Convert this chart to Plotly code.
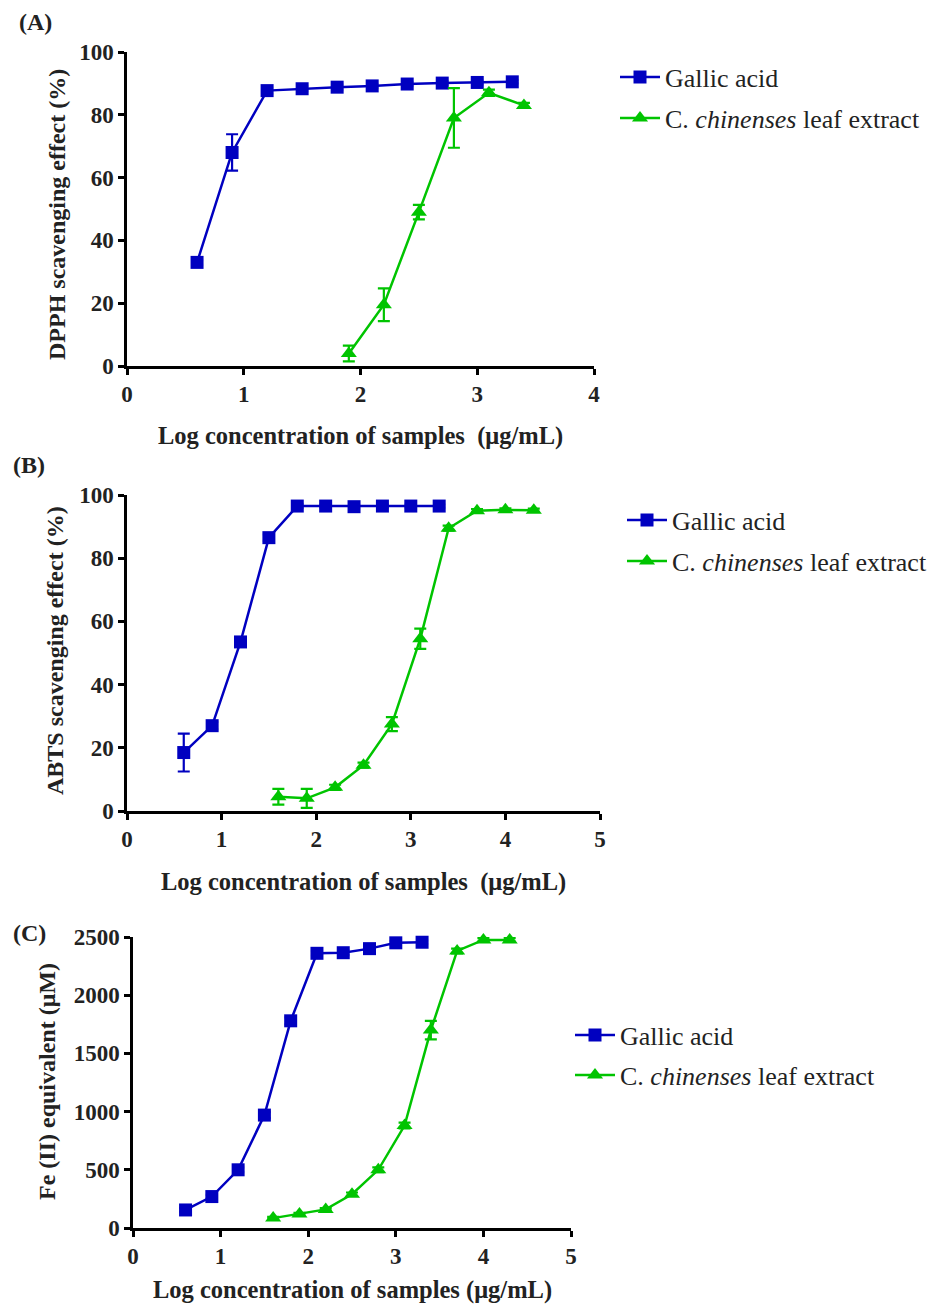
import plotly.graph_objects as go

# ---------------- data ----------------
logc_ga = [0.6, 0.9, 1.2, 1.5, 1.8, 2.1, 2.4, 2.7, 3.0, 3.3]
logc_ext_a = [1.9, 2.2, 2.5, 2.8, 3.1, 3.4]
logc_ext = [1.6, 1.9, 2.2, 2.5, 2.8, 3.1, 3.4, 3.7, 4.0, 4.3]

dpph_ga = [33.0, 68.0, 87.7, 88.3, 88.8, 89.2, 89.8, 90.1, 90.3, 90.5]
dpph_ga_err = [0.8, 5.8, 1.0, 0.8, 0.8, 0.6, 0.6, 0.6, 0.6, 0.5]
dpph_ext = [4.0, 19.5, 49.0, 79.0, 87.0, 83.0]
dpph_ext_err = [2.5, 5.2, 2.3, 9.5, 1.0, 0.8]

abts_ga = [18.5, 27.0, 53.5, 86.5, 96.5, 96.5, 96.3, 96.5, 96.5, 96.5]
abts_ga_err = [6.0, 1.2, 1.0, 1.0, 0.6, 0.5, 0.5, 0.5, 0.5, 0.5]
abts_ext = [4.5, 4.0, 7.5, 14.5, 27.5, 54.5, 89.5, 95.0, 95.3, 95.2]
abts_ext_err = [2.5, 3.0, 0.8, 0.8, 2.2, 3.2, 0.8, 0.5, 0.5, 0.5]

frap_ga = [155, 270, 500, 970, 1780, 2360, 2365, 2400, 2450, 2455]
frap_ga_err = [15, 15, 20, 25, 30, 20, 20, 20, 15, 15]
frap_ext = [85, 120, 160, 290, 500, 880, 1700, 2380, 2475, 2475]
frap_ext_err = [10, 10, 10, 15, 20, 25, 80, 20, 15, 15]

x_ticks_a = [0, 1, 2, 3, 4]
x_ticks_bc = [0, 1, 2, 3, 4, 5]
y_ticks_pct = [0, 20, 40, 60, 80, 100]
y_ticks_fe = [0, 500, 1000, 1500, 2000, 2500]

name_ga = "Gallic acid"
name_ext = "C. <i>chinenses</i> leaf extract"
x_title_ab = "Log concentration of samples  (μg/mL)"
x_title_c = "Log concentration of samples (μg/mL)"
y_titles = ["DPPH scavenging effect (%)", "ABTS scavenging effect (%)", "Fe (II) equivalent (μM)"]
panel_labels = ["(A)", "(B)", "(C)"]

BLUE = "#0000C0"
GREEN = "#00C400"
FONT = "Liberation Serif"
TXT = "#222222"
W, H = 949, 1304

fig = go.Figure()

def px_x(p):
    return p / W

def px_y(p):
    return 1 - p / H

panels = [
    dict(xa="x", ya="y", xs=(logc_ga, logc_ext_a), ys=(dpph_ga, dpph_ext), es=(dpph_ga_err, dpph_ext_err)),
    dict(xa="x2", ya="y2", xs=(logc_ga, logc_ext), ys=(abts_ga, abts_ext), es=(abts_ga_err, abts_ext_err)),
    dict(xa="x3", ya="y3", xs=(logc_ga, logc_ext), ys=(frap_ga, frap_ext), es=(frap_ga_err, frap_ext_err)),
]
legend_names = [("legend", "legend2"), ("legend3", "legend4"), ("legend5", "legend6")]

for i, p in enumerate(panels):
    for j, (col, sym, nm, msz) in enumerate([(BLUE, "square", name_ga, 13), (GREEN, "triangle-up", name_ext, 14)]):
        fig.add_trace(go.Scatter(
            x=p["xs"][j], y=p["ys"][j], mode="lines+markers", name=nm, showlegend=True,
            line=dict(color=col, width=2.5),
            marker=dict(symbol=sym, size=msz, color=col),
            error_y=dict(type="data", array=p["es"][j], visible=True, color=col, thickness=2.2, width=6),
            xaxis=p["xa"], yaxis=p["ya"], legend=legend_names[i][j], cliponaxis=False,
        ))

axis_common = dict(showline=True, linecolor="black", linewidth=2.5, ticks="outside", ticklen=6,
                   tickwidth=2.5, tickcolor="black", showgrid=False, zeroline=False,
                   tickfont=dict(family=FONT, size=23, color=TXT, weight="bold"), mirror=False)

fig.update_layout(
    width=W, height=H, margin=dict(l=0, r=0, t=0, b=0, autoexpand=False),
    paper_bgcolor="white", plot_bgcolor="white", showlegend=True,
    xaxis=dict(domain=[px_x(127), px_x(594)], range=[0, 4], tickvals=x_ticks_a, anchor="y", **axis_common),
    yaxis=dict(domain=[px_y(366), px_y(52)], range=[0, 100], tickvals=y_ticks_pct, anchor="x", **axis_common),
    xaxis2=dict(domain=[px_x(127), px_x(600)], range=[0, 5], tickvals=x_ticks_bc, anchor="y2", **axis_common),
    yaxis2=dict(domain=[px_y(811), px_y(495)], range=[0, 100], tickvals=y_ticks_pct, anchor="x2", **axis_common),
    xaxis3=dict(domain=[px_x(133), px_x(571)], range=[0, 5], tickvals=x_ticks_bc, anchor="y3", **axis_common),
    yaxis3=dict(domain=[px_y(1228), px_y(937)], range=[0, 2500], tickvals=y_ticks_fe, anchor="x3", **axis_common),
)

leg_pos = [(615, 77), (615, 118), (622, 520), (622, 561), (570, 1035), (570, 1075)]
for k, (lx, ly) in enumerate(leg_pos):
    key = "legend" if k == 0 else f"legend{k+1}"
    fig.update_layout({key: dict(x=px_x(lx), y=px_y(ly), xanchor="left", yanchor="middle",
                                 font=dict(family=FONT, size=26, color=TXT),
                                 bgcolor="rgba(0,0,0,0)", itemwidth=40, visible=True)})

ann = []
x_title_pos = [(360, 436, x_title_ab), (363, 882, x_title_ab), (352, 1290, x_title_c)]
for (cx, cy, t) in x_title_pos:
    ann.append(dict(x=px_x(cx), y=px_y(cy), xref="paper", yref="paper", text=t, showarrow=False,
                    font=dict(family=FONT, size=24.5, color=TXT, weight="bold"),
                    xanchor="center", yanchor="middle"))
y_title_pos = [(57, 215), (55, 651), (47, 1082)]
for (cx, cy), t in zip(y_title_pos, y_titles):
    ann.append(dict(x=px_x(cx), y=px_y(cy), xref="paper", yref="paper", text=t, showarrow=False,
                    textangle=-90, font=dict(family=FONT, size=24, color=TXT, weight="bold"),
                    xanchor="center", yanchor="middle"))
lab_pos = [(35, 22), (29, 465), (29, 933)]
for (cx, cy), t in zip(lab_pos, panel_labels):
    ann.append(dict(x=px_x(cx), y=px_y(cy), xref="paper", yref="paper", text=t,
                    showarrow=False, font=dict(family=FONT, size=24, color=TXT, weight="bold"),
                    xanchor="center", yanchor="middle"))
fig.update_layout(annotations=ann)

fig.write_html("out.html")
